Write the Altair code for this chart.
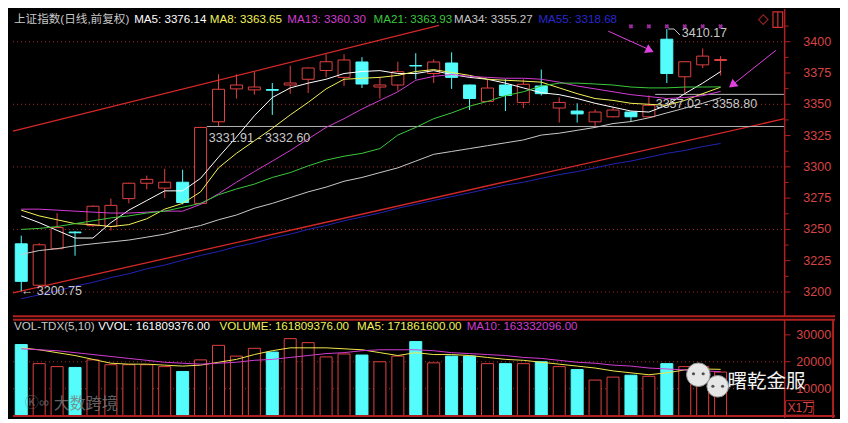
import altair as alt
import pandas as pd

# ---------------- data ----------------
days = list(range(1, 41))
open_ = [3238.5, 3205.4, 3234.6, 3247.9, 3253.0, 3252.3, 3274.6, 3286.9, 3283.0, 3287.7,
         3270.8, 3336.0, 3362.3, 3361.5, 3361.8, 3365.4, 3370.0, 3377.0, 3371.5, 3383.8,
         3363.8, 3365.4, 3381.0, 3374.6, 3383.0, 3365.4, 3352.3, 3365.4, 3351.5, 3364.6,
         3347.0, 3344.6, 3336.0, 3340.0, 3343.8, 3340.0, 3402.0, 3372.0, 3381.5, 3385.0]
high = [3245.0, 3239.0, 3263.0, 3248.5, 3269.2, 3274.6, 3287.3, 3293.0, 3298.5, 3297.7,
        3331.91, 3374.0, 3374.0, 3376.0, 3367.0, 3380.8, 3379.5, 3390.0, 3390.0, 3387.7,
        3372.0, 3384.0, 3390.8, 3386.0, 3391.5, 3365.8, 3370.0, 3370.0, 3370.0, 3377.7,
        3355.4, 3350.8, 3346.0, 3347.7, 3344.0, 3357.02, 3410.17, 3384.5, 3394.6, 3388.5]
low = [3200.75, 3204.6, 3234.0, 3229.0, 3252.0, 3249.0, 3270.8, 3282.0, 3275.0, 3270.0,
       3270.0, 3332.6, 3354.6, 3357.7, 3341.5, 3358.5, 3359.0, 3371.5, 3364.6, 3363.0,
       3354.6, 3360.8, 3370.0, 3367.0, 3362.3, 3345.4, 3352.0, 3344.6, 3347.0, 3357.0,
       3335.4, 3335.4, 3332.3, 3339.5, 3336.0, 3339.5, 3367.0, 3358.8, 3379.0, 3373.0]
close = [3208.5, 3237.7, 3251.5, 3247.3, 3268.5, 3269.2, 3286.9, 3290.0, 3287.7, 3271.5,
         3331.5, 3362.0, 3365.4, 3363.8, 3361.2, 3367.0, 3379.0, 3384.0, 3385.4, 3366.2,
         3365.4, 3376.0, 3380.6, 3383.8, 3371.5, 3354.6, 3363.0, 3357.0, 3366.0, 3358.5,
         3351.5, 3342.3, 3343.8, 3345.4, 3340.0, 3349.2, 3374.6, 3384.0, 3388.5, 3385.8]
volume = [26400, 19300, 18200, 17900, 20700, 18900, 18900, 18900, 18200, 16400,
          20700, 26100, 22100, 25000, 23600, 28600, 27100, 21800, 22900, 22500,
          20000, 22100, 27500, 19600, 22100, 22100, 19300, 19300, 19300, 20000,
          18200, 17100, 13200, 14300, 15000, 14600, 19300, 18200, 18200, 16181]

ma5 = [3260.8, 3255.4, 3249.2, 3243.1, 3243.1, 3255.4, 3265.4, 3273.1, 3280.8, 3280.8,
       3290.8, 3307.7, 3323.8, 3340.8, 3355.4, 3363.1, 3366.9, 3370.0, 3374.6, 3376.2,
       3376.9, 3374.6, 3374.6, 3376.9, 3373.8, 3371.5, 3370.0, 3366.9, 3363.1, 3359.2,
       3357.7, 3354.6, 3350.8, 3347.7, 3344.6, 3343.8, 3349.2, 3358.5, 3366.9, 3376.14]
ma8 = [3265.4, 3260.8, 3257.7, 3254.6, 3253.8, 3252.3, 3253.8, 3258.5, 3266.2, 3270.8,
       3280.0, 3299.2, 3310.8, 3320.8, 3330.8, 3341.5, 3351.5, 3362.3, 3370.0, 3370.8,
       3371.5, 3373.1, 3376.2, 3377.7, 3375.4, 3373.1, 3370.0, 3369.2, 3368.5, 3367.7,
       3363.1, 3358.5, 3354.6, 3353.1, 3350.8, 3350.0, 3349.2, 3353.1, 3358.5, 3363.65]
ma13 = [3266.2, 3266.2, 3265.4, 3264.6, 3263.8, 3263.1, 3263.1, 3263.8, 3264.6, 3264.6,
        3270.0, 3278.5, 3287.7, 3296.2, 3304.6, 3313.1, 3322.3, 3331.5, 3338.5, 3346.2,
        3353.1, 3360.0, 3369.2, 3372.3, 3373.8, 3372.3, 3371.5, 3370.8, 3370.8, 3370.0,
        3367.7, 3364.6, 3362.3, 3360.0, 3357.7, 3356.2, 3354.6, 3355.4, 3356.9, 3360.30]
ma21 = [3250.0, 3250.8, 3252.3, 3254.6, 3256.9, 3259.2, 3260.8, 3263.1, 3264.6, 3267.7,
        3270.8, 3277.7, 3282.3, 3286.2, 3291.5, 3295.4, 3300.8, 3305.4, 3308.5, 3310.8,
        3314.6, 3325.4, 3331.5, 3338.5, 3343.1, 3348.5, 3352.3, 3356.9, 3360.0, 3364.6,
        3366.9, 3366.9, 3366.2, 3365.4, 3363.8, 3363.1, 3363.1, 3363.8, 3363.8, 3363.93]
ma34 = [3230.0, 3233.1, 3234.6, 3236.9, 3238.5, 3240.0, 3241.5, 3243.8, 3246.2, 3250.0,
        3253.1, 3257.7, 3261.5, 3266.9, 3270.8, 3275.4, 3280.0, 3283.8, 3288.5, 3291.5,
        3295.4, 3299.2, 3304.6, 3310.0, 3312.3, 3314.6, 3316.9, 3319.2, 3321.5, 3325.4,
        3326.9, 3329.2, 3331.5, 3334.6, 3336.2, 3339.2, 3343.1, 3346.9, 3350.8, 3355.27]
ma55 = [3194.6, 3197.7, 3200.8, 3204.6, 3207.7, 3211.5, 3214.6, 3218.5, 3221.5, 3225.4,
        3229.2, 3232.3, 3236.2, 3239.2, 3243.1, 3246.2, 3250.0, 3253.1, 3256.9, 3260.0,
        3263.1, 3266.9, 3270.0, 3273.1, 3276.2, 3279.2, 3282.3, 3285.4, 3287.7, 3290.8,
        3293.8, 3296.2, 3299.2, 3302.3, 3304.6, 3307.7, 3310.8, 3313.1, 3316.2, 3318.68]
vol_ma5 = [25180, 24460, 23390, 22320, 20890, 19460, 19110, 19110, 18750, 18390,
           18750, 19820, 20890, 22680, 24110, 25180, 25180, 25180, 24820, 24460,
           23390, 22320, 23390, 22680, 22680, 22320, 21610, 20890, 20540, 19820,
           19110, 18390, 17680, 16610, 15890, 15180, 15890, 16960, 17320, 17186]
vol_ma10 = [24820, 24460, 24110, 23390, 22680, 21960, 21250, 20540, 19820, 19460,
            19110, 19460, 19820, 20540, 20890, 21610, 22320, 23040, 23390, 24110,
            24460, 24460, 24460, 24110, 23390, 23040, 22680, 22320, 21610, 21250,
            20540, 19820, 19460, 18750, 18390, 17680, 17320, 16960, 16610, 16333]

price_ticks = [3200, 3225, 3250, 3275, 3300, 3325, 3350, 3375, 3400]
price_grid = [3200, 3250, 3300, 3350, 3400]
vol_ticks = [10000, 20000, 30000]
vol_grid = [10000, 20000]
gap_levels = [3332.26, 3357.91]
gap_start = [11, 36]
gap_labels = ["3331.91 - 3332.60", "3357.02 - 3358.80"]
signal_days = [35, 36, 37, 38, 39, 40]

# trend channel end points (day index, price)
trend_upper = [(0.54, 3328.5), (24.3, 3413.1)]
trend_lower = [(0.54, 3199.2), (43.57, 3338.5)]

# ---------------- layout / style ----------------
W, H1, H2 = 832, 308, 99
XDOM = [0.5405, 46.378]
PDOM = [3180.0, 3426.15]
VDOM = [-893.0, 35893.0]
AXIS_I = 43.57
BG = "#000000"
RED = "#e04040"
CYAN = "#54fcfc"
FRAME = "#b02020"
GRID = "#a82a2a"
AXT = "#d84444"
FONT = "Liberation Sans, Noto Sans CJK SC, sans-serif"
CJK = "Noto Sans CJK SC"


def ri(x):  # reference pixel x -> day index
    return (x - 8.5) / 18.5 + 1


def rp(y):  # reference pixel y -> price
    return 3200 + (294 - y) / 1.3


def rv(y):  # reference pixel y -> volume
    return (420.5 - y) / 28 * 10000


xs = alt.Scale(domain=XDOM, nice=False, zero=False)
ps = alt.Scale(domain=PDOM, nice=False, zero=False)
vs = alt.Scale(domain=VDOM, nice=False, zero=False)


def X(f="i"):
    return alt.X(f + ":Q", scale=xs, axis=None)


def X2(f):
    return alt.X2(f + ":Q")


def P(f):
    return alt.Y(f + ":Q", scale=ps, axis=None)


def V(f):
    return alt.Y(f + ":Q", scale=vs, axis=None)


def Y2(f):
    return alt.Y2(f + ":Q")


def text_layer(df, yfun, ycol, color, size=12, font=FONT, align="left", opacity=1.0):
    return alt.Chart(df).mark_text(align=align, baseline="middle", color=color, font=font,
                                   fontSize=size, opacity=opacity).encode(
        x=X(), y=yfun(ycol), text="t:N")


# ---------------- tables ----------------
cdf = pd.DataFrame({"i": days, "o": open_, "h": high, "l": low, "c": close, "v": volume})
cdf["dir"] = ["up" if c >= o else "down" for o, c in zip(open_, close)]
cdf["b0"] = cdf[["o", "c"]].min(axis=1)
cdf["b1"] = cdf[["o", "c"]].max(axis=1)
cdf["zero"] = 0.0

ma_sets = [(ma5, "#ffffff"), (ma8, "#f2f25a"), (ma13, "#d23cd2"), (ma21, "#3cc83c"),
           (ma34, "#c8c8c8"), (ma55, "#2323b4")]

# ---------------- price panel ----------------
layers = []
gdf = pd.DataFrame({"p": price_grid, "x0": XDOM[0], "x1": AXIS_I})
layers.append(alt.Chart(gdf).mark_rule(color=GRID, strokeDash=[1, 3], strokeWidth=1).encode(
    x=X("x0"), x2=X2("x1"), y=P("p")))

tdf = pd.DataFrame([{"line": "u", "i": a, "p": b} for a, b in trend_upper] +
                   [{"line": "l", "i": a, "p": b} for a, b in trend_lower])
layers.append(alt.Chart(tdf).mark_line(color="#d42828", strokeWidth=1.3, clip=True).encode(
    x=X(), y=P("p"), detail="line:N"))

gapdf = pd.DataFrame({"p": gap_levels, "x0": [d + 0.35 for d in gap_start], "x1": AXIS_I})
layers.append(alt.Chart(gapdf).mark_rule(color="#b4b4b4", strokeWidth=1).encode(
    x=X("x0"), x2=X2("x1"), y=P("p")))

base = alt.Chart(cdf)
up = base.transform_filter(alt.datum.dir == "up")
dn = base.transform_filter(alt.datum.dir == "down")
layers.append(up.mark_rule(strokeWidth=1, color=RED).encode(x=X(), y=P("l"), y2=Y2("h")))
layers.append(dn.mark_rule(strokeWidth=1, color=CYAN).encode(x=X(), y=P("l"), y2=Y2("h")))
layers.append(up.mark_bar(size=12, fill=BG, stroke=RED, strokeWidth=1).encode(
    x=X(), y=P("b0"), y2=Y2("b1")))
layers.append(dn.mark_bar(size=12, fill=CYAN, stroke=CYAN, strokeWidth=1).encode(
    x=X(), y=P("b0"), y2=Y2("b1")))

for vals, col in ma_sets:
    mdf = pd.DataFrame({"i": days, "val": vals})
    layers.append(alt.Chart(mdf).mark_line(strokeWidth=1, color=col).encode(x=X(), y=P("val")))

# gap labels and extremes
gl = pd.DataFrame({"t": gap_labels, "i": [ri(202), ri(663)], "p": [rp(134), rp(99)]})
layers.append(text_layer(gl, P, "p", "#c8c8c8", 12.5))
lodf = pd.DataFrame({"i": [ri(8)], "p": [3200.75], "t": ["\u2190 3200.75"]})
layers.append(text_layer(lodf, P, "p", "#c8c8c8", 12.5))
hiseg = pd.DataFrame({"i": [ri(676), ri(682), ri(688)], "p": [3410.17, 3410.17, rp(27)]})
layers.append(alt.Chart(hiseg).mark_line(color="#c8c8c8", strokeWidth=1).encode(x=X(), y=P("p")))
hidf = pd.DataFrame({"i": [ri(690)], "p": [rp(25)], "t": ["3410.17"]})
layers.append(text_layer(hidf, P, "p", "#c8c8c8", 12.5))

# signal markers
sdf = pd.DataFrame({"i": signal_days, "p": rp(18)})
layers.append(alt.Chart(sdf).mark_point(shape="cross", angle=45, filled=True, size=22,
                                        color="#e040e0").encode(x=X(), y=P("p")))

# magenta arrows
adf = pd.DataFrame([
    {"a": 1, "i": ri(614), "p": rp(23)}, {"a": 1, "i": ri(658), "p": rp(43)},
    {"a": 2, "i": ri(787), "p": rp(43)}, {"a": 2, "i": ri(742), "p": rp(79)},
])
layers.append(alt.Chart(adf).mark_line(color="#e040e0", strokeWidth=1).encode(
    x=X(), y=P("p"), detail="a:N"))
layers.append(alt.Chart(pd.DataFrame({"i": [ri(657)], "p": [rp(43)]})).mark_point(
    shape="triangle-up", angle=115, filled=True, size=90, color="#e040e0", opacity=1).encode(
    x=X(), y=P("p")))
layers.append(alt.Chart(pd.DataFrame({"i": [ri(742)], "p": [rp(79)]})).mark_point(
    shape="triangle-up", angle=231, filled=True, size=90, color="#e040e0", opacity=1).encode(
    x=X(), y=P("p")))

# right axis (price)
layers.append(alt.Chart(pd.DataFrame({"i": [AXIS_I], "y0": [PDOM[0]], "y1": [PDOM[1]]})).mark_rule(
    color=FRAME, strokeWidth=1.5).encode(x=X(), y=P("y0"), y2=Y2("y1")))
pt = pd.DataFrame({"p": price_ticks, "x0": AXIS_I, "x1": ri(802), "i": ri(844),
                   "t": [str(v) for v in price_ticks]})
layers.append(alt.Chart(pt).mark_rule(color=FRAME, strokeWidth=1).encode(
    x=X("x0"), x2=X2("x1"), y=P("p")))
pmin = pd.DataFrame({"p": [v + 12.5 for v in price_ticks], "x0": AXIS_I, "x1": ri(800)})
layers.append(alt.Chart(pmin).mark_rule(color=FRAME, strokeWidth=1).encode(
    x=X("x0"), x2=X2("x1"), y=P("p")))
layers.append(text_layer(pt, P, "p", AXT, 12.5, align="right"))

# header
hdr_text = ["上证指数(日线,前复权)", "MA5: 3376.14", "MA8: 3363.65", "MA13: 3360.30",
            "MA21: 3363.93", "MA34: 3355.27", "MA55: 3318.68"]
hdr_color = ["#c8c8c8", "#ffffff", "#f2f25a", "#d23cd2", "#3cc83c", "#c8c8c8", "#2828d2"]
hdr_x = [1, 125, 203, 283, 372, 455, 542]
for t, c, x in zip(hdr_text, hdr_color, hdr_x):
    hd = pd.DataFrame({"t": [t], "i": [ri(x)], "p": [rp(11)]})
    layers.append(text_layer(hd, P, "p", c, 11.6))

# icons (top right)
layers.append(alt.Chart(pd.DataFrame({"i": [ri(774)], "p": [rp(11)]})).mark_point(
    shape="diamond", size=90, filled=False, color="#d03030", strokeWidth=1.2).encode(x=X(), y=P("p")))
layers.append(alt.Chart(pd.DataFrame({"x0": [ri(784)], "x1": [ri(794)], "y0": [rp(19)],
                                      "y1": [rp(3)]})).mark_rect(
    fill=BG, stroke="#d03030", strokeWidth=1.2).encode(x=X("x0"), x2=X2("x1"), y=P("y0"), y2=Y2("y1")))
layers.append(alt.Chart(pd.DataFrame({"i": [ri(789)], "y0": [rp(19)], "y1": [rp(3)]})).mark_rule(
    color="#d03030", strokeWidth=1.2).encode(x=X(), y=P("y0"), y2=Y2("y1")))

layers.append(alt.Chart(pd.DataFrame({"x0": [XDOM[0]], "x1": [XDOM[1]], "p": [PDOM[0] + 0.6]})).mark_rule(
    color=FRAME, strokeWidth=2).encode(x=X("x0"), x2=X2("x1"), y=P("p")))

price_panel = alt.layer(*layers).properties(width=W, height=H1)

# ---------------- volume panel ----------------
vl = []
vg = pd.DataFrame({"v": vol_grid, "x0": XDOM[0], "x1": AXIS_I})
vl.append(alt.Chart(vg).mark_rule(color=GRID, strokeDash=[1, 3], strokeWidth=1).encode(
    x=X("x0"), x2=X2("x1"), y=V("v")))
vl.append(up.mark_bar(size=12, fill=BG, stroke=RED, strokeWidth=1).encode(
    x=X(), y=V("v"), y2=Y2("zero")))
vl.append(dn.mark_bar(size=12, fill=CYAN, stroke=CYAN, strokeWidth=1).encode(
    x=X(), y=V("v"), y2=Y2("zero")))
for vals, col in [(vol_ma5, "#f0e64a"), (vol_ma10, "#d23cd2")]:
    vdf = pd.DataFrame({"i": days, "val": vals})
    vl.append(alt.Chart(vdf).mark_line(strokeWidth=1, color=col).encode(x=X(), y=V("val")))

# volume axis
vl.append(alt.Chart(pd.DataFrame({"i": [AXIS_I], "y0": [VDOM[0]], "y1": [VDOM[1]]})).mark_rule(
    color=FRAME, strokeWidth=1.5).encode(x=X(), y=V("y0"), y2=Y2("y1")))
vl.append(alt.Chart(pd.DataFrame({"i": [ri(846)], "y0": [VDOM[0]], "y1": [VDOM[1]]})).mark_rule(
    color=FRAME, strokeWidth=2).encode(x=X(), y=V("y0"), y2=Y2("y1")))
vt = pd.DataFrame({"v": vol_ticks, "x0": AXIS_I, "x1": ri(802), "i": ri(844),
                   "t": [str(v) for v in vol_ticks]})
vl.append(alt.Chart(vt).mark_rule(color=FRAME, strokeWidth=1).encode(
    x=X("x0"), x2=X2("x1"), y=V("v")))
vl.append(text_layer(vt, V, "v", AXT, 12.5, align="right"))
vl.append(alt.Chart(pd.DataFrame({"x0": [ri(797)], "x1": [ri(826)], "y0": [rv(420)],
                                  "y1": [rv(405)]})).mark_rect(
    fill=BG, stroke=FRAME, strokeWidth=1).encode(x=X("x0"), x2=X2("x1"), y=V("y0"), y2=Y2("y1")))
vl.append(text_layer(pd.DataFrame({"i": [ri(799)], "v": [rv(412.5)], "t": ["X1万"]}), V, "v", AXT, 12))

# watermarks
bub = pd.DataFrame({"i": [ri(707), ri(727)], "v": [rv(378), rv(390)], "s": [560, 470]})
vl.append(alt.Chart(bub).mark_point(shape="circle", filled=True, color="#e6e6e6", opacity=1,
                                    stroke="#909090", strokeWidth=1).encode(
    x=X(), y=V("v"), size=alt.Size("s:Q", scale=None)))
eyes = pd.DataFrame({"i": [ri(702), ri(712), ri(722), ri(732)],
                     "v": [rv(377), rv(377), rv(390), rv(390)]})
vl.append(alt.Chart(eyes).mark_point(shape="circle", filled=True, color="#505050", size=10,
                                     opacity=1).encode(x=X(), y=V("v")))
vl.append(text_layer(pd.DataFrame({"i": [ri(737)], "v": [rv(386)], "t": ["曙乾金服"]}), V, "v",
                     "#f2f2f2", 19.5, font=CJK))
vl.append(text_layer(pd.DataFrame({"i": [ri(42)], "v": [rv(408)], "t": ["大数跨境"]}), V, "v",
                     "#7a7a7a", 16, font=CJK, opacity=0.8))
vl.append(text_layer(pd.DataFrame({"i": [ri(12)], "v": [rv(407)], "t": ["Ⓚ∞"]}), V, "v",
                     "#7a7a7a", 14, opacity=0.7))

# volume header
vhdr_text = ["VOL-TDX(5,10)", "VVOL: 161809376.00", "VOLUME: 161809376.00",
             "MA5: 171861600.00", "MA10: 163332096.00"]
vhdr_color = ["#c8c8c8", "#ffffff", "#f2f25a", "#f2f25a", "#d23cd2"]
vhdr_x = [1, 88, 213, 355, 468]
for t, c, x in zip(vhdr_text, vhdr_color, vhdr_x):
    vh = pd.DataFrame({"t": [t], "i": [ri(x)], "v": [rv(328)]})
    vl.append(text_layer(vh, V, "v", c, 11.6))

frames = pd.DataFrame({"x0": XDOM[0], "x1": XDOM[1], "v": [VDOM[1] - 250, rv(421)]})
vl.append(alt.Chart(frames).mark_rule(color=FRAME, strokeWidth=2).encode(
    x=X("x0"), x2=X2("x1"), y=V("v")))

vol_panel = alt.layer(*vl).properties(width=W, height=H2)

chart = alt.vconcat(price_panel, vol_panel, spacing=0, padding=0, background=BG).configure_view(
    strokeWidth=0)

chart.save("out.html", embed_options={"renderer": "svg", "actions": False})
